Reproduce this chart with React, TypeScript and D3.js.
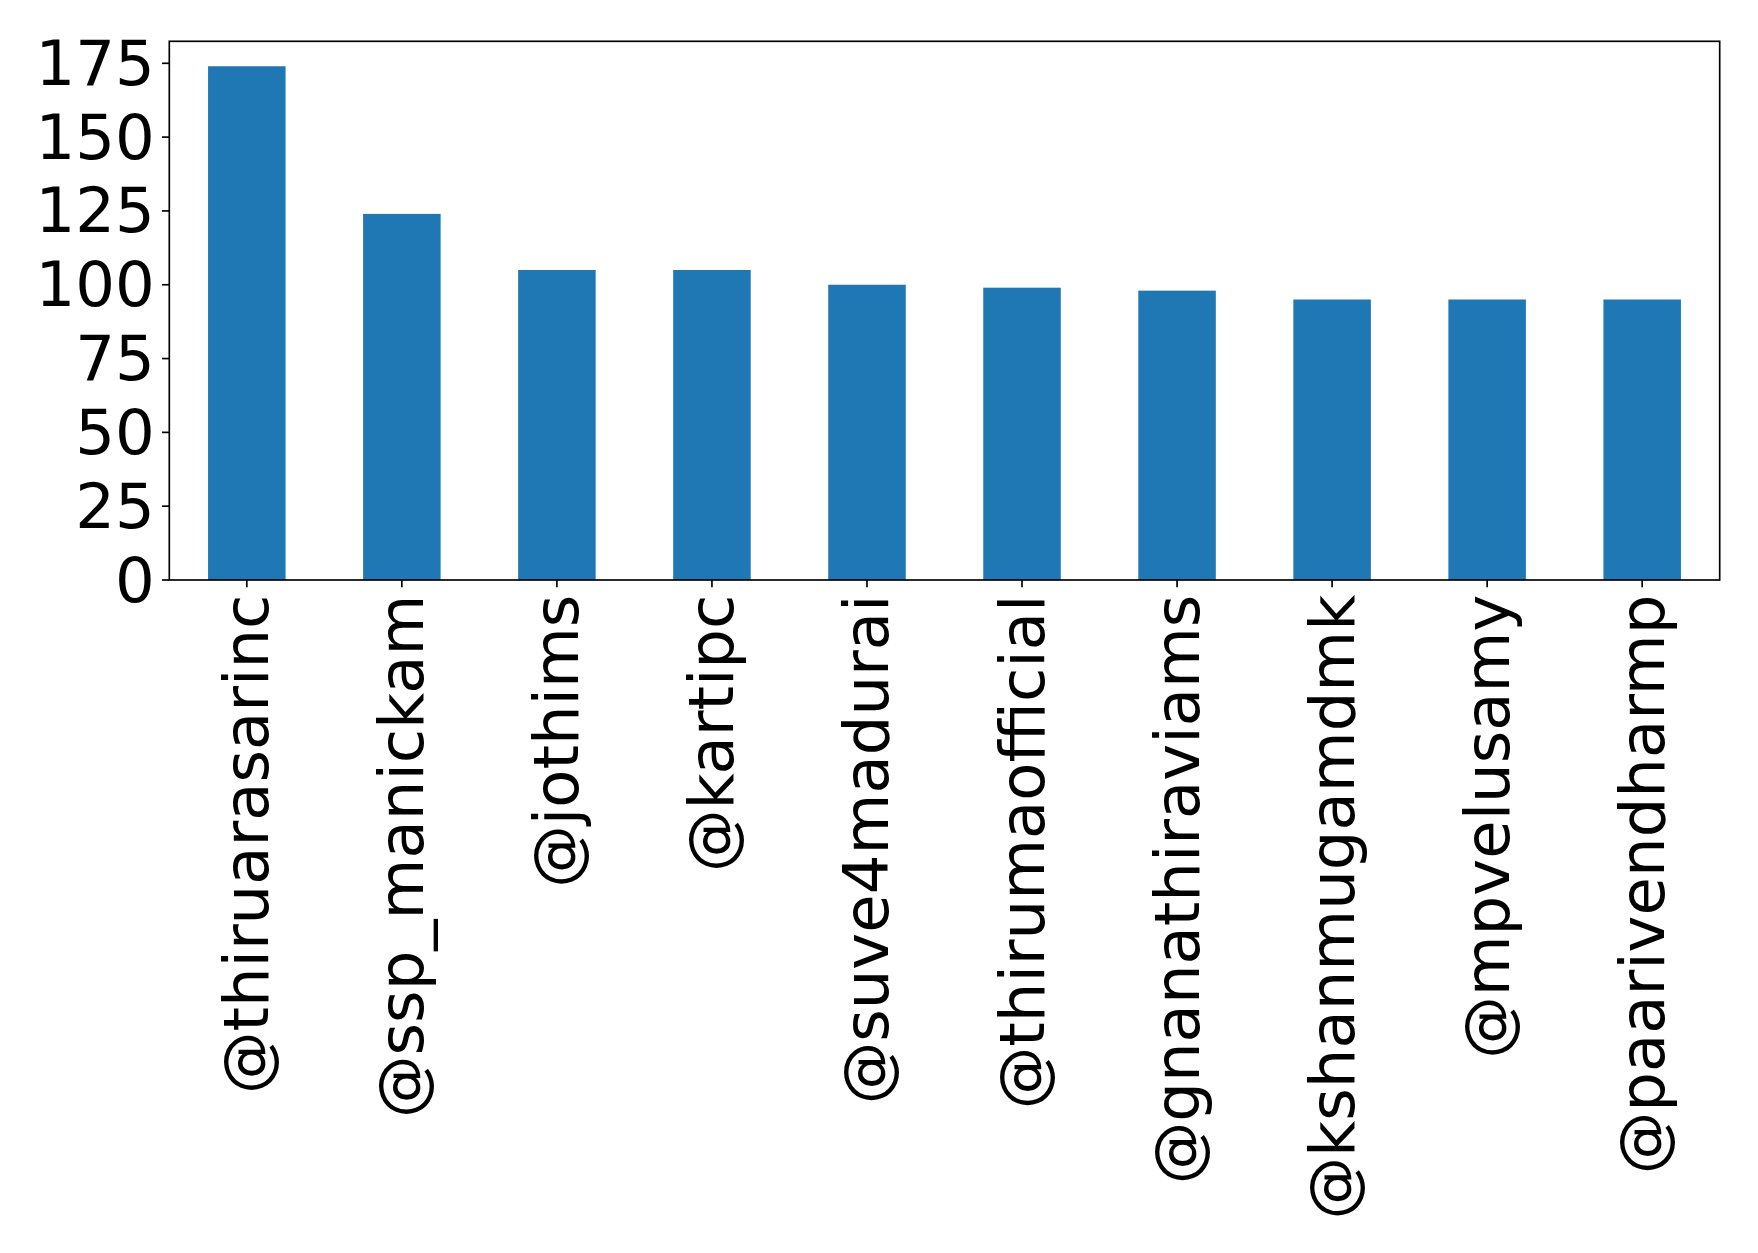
import React from "react";
import * as d3 from "d3";

const categories: string[] = [
  "@thiruarasarinc",
  "@ssp_manickam",
  "@jothims",
  "@kartipc",
  "@suve4madurai",
  "@thirumaofficial",
  "@gnanathiraviams",
  "@kshanmugamdmk",
  "@mpvelusamy",
  "@paarivendharmp",
];
const values: number[] = [174, 124, 105, 105, 100, 99, 98, 95, 95, 95];
const yTicks: number[] = [0, 25, 50, 75, 100, 125, 150, 175];

const W = 1758;
const H = 1253;
const left = 169.3;
const right = 1719.7;
const top = 41.3;
const bottom = 580;
const FONT = "'DejaVu Sans', sans-serif";
const FS = 62.5;
const TICK = 7.3;
const PAD = 7.3;

export default function App() {
  const x = d3
    .scaleLinear()
    .domain([-0.5, categories.length - 0.5])
    .range([left, right]);
  const y = d3
    .scaleLinear()
    .domain([0, (bottom - top) / ((bottom - 63.3) / 175)])
    .range([bottom, top]);
  const bw = x(0.25) - x(-0.25);

  return (
    <svg
      width={W}
      height={H}
      style={{ position: "absolute", left: 0, top: 0, background: "#fff" }}
    >
      <rect x={0} y={0} width={W} height={H} fill="#fff" />
      {values.map((v, i) => (
        <rect
          key={i}
          x={x(i) - bw / 2}
          y={y(v)}
          width={bw}
          height={y(0) - y(v)}
          fill="#1f77b4"
        />
      ))}
      <rect
        x={left}
        y={top}
        width={right - left}
        height={bottom - top}
        fill="none"
        stroke="#000"
        strokeWidth={1.67}
      />
      {yTicks.map((t) => (
        <g key={t}>
          <line
            x1={left - TICK}
            x2={left}
            y1={y(t)}
            y2={y(t)}
            stroke="#000"
            strokeWidth={1.67}
          />
          <text
            x={left - TICK - PAD}
            y={y(t)}
            textAnchor="end"
            dominantBaseline="central"
            fontFamily={FONT}
            fontSize={FS}
            fill="#000"
          >
            {t}
          </text>
        </g>
      ))}
      {categories.map((c, i) => (
        <g key={c}>
          <line
            x1={x(i)}
            x2={x(i)}
            y1={bottom}
            y2={bottom + TICK}
            stroke="#000"
            strokeWidth={1.67}
          />
          <text
            transform={`translate(${x(i)},${bottom + TICK + PAD}) rotate(-90)`}
            textAnchor="end"
            dominantBaseline="central"
            fontFamily={FONT}
            fontSize={FS}
            fill="#000"
          >
            {c}
          </text>
        </g>
      ))}
    </svg>
  );
}
